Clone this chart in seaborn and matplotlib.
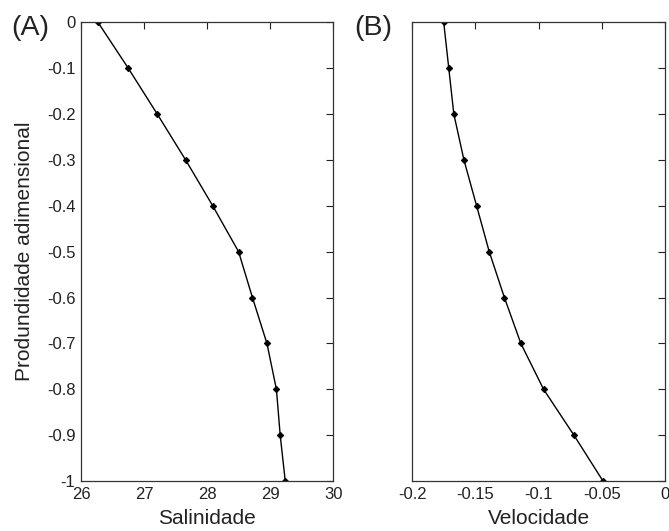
import numpy as np
import pandas as pd
import matplotlib
matplotlib.use("Agg")
import matplotlib.pyplot as plt
import seaborn as sns

# Dimensionless depth levels and the two measured profiles
depth = [0.0, -0.1, -0.2, -0.3, -0.4, -0.5, -0.6, -0.7, -0.8, -0.9, -1.0]
salinity = [26.27, 26.75, 27.21, 27.66, 28.09, 28.50, 28.72, 28.95, 29.10, 29.16, 29.24]
velocity = [-0.175, -0.171, -0.167, -0.159, -0.149, -0.139, -0.127, -0.114, -0.096, -0.072, -0.049]

sal_ticks = [26, 27, 28, 29, 30]
sal_ticklabels = ["26", "27", "28", "29", "30"]
vel_ticks = [-0.2, -0.15, -0.1, -0.05, 0]
vel_ticklabels = ["-0.2", "-0.15", "-0.1", "-0.05", "0"]
depth_ticks = [0, -0.1, -0.2, -0.3, -0.4, -0.5, -0.6, -0.7, -0.8, -0.9, -1]
depth_ticklabels = ["0", "-0.1", "-0.2", "-0.3", "-0.4", "-0.5", "-0.6", "-0.7", "-0.8", "-0.9", "-1"]

sns.set_theme(style="white")
plt.rcParams["font.family"] = ["Liberation Sans", "DejaVu Sans"]

df = pd.DataFrame({"depth": depth, "sal": salinity, "vel": velocity})

fig = plt.figure(figsize=(6.69, 5.31), dpi=100)
ax1 = fig.add_axes([0.121, 0.094, 0.377, 0.864])
ax2 = fig.add_axes([0.616, 0.094, 0.378, 0.864])

line_kw = dict(color="black", linewidth=1.0, marker="D", markersize=3.2,
               markeredgecolor="black", sort=False, estimator=None)
sns.lineplot(data=df, x="sal", y="depth", ax=ax1, **line_kw)
sns.lineplot(data=df, x="vel", y="depth", ax=ax2, **line_kw)

for ax, xt, xtl, xlim, xlab in [
    (ax1, sal_ticks, sal_ticklabels, (26, 30), "Salinidade"),
    (ax2, vel_ticks, vel_ticklabels, (-0.2, 0), "Velocidade"),
]:
    ax.set_xlim(*xlim)
    ax.set_ylim(-1, 0)
    ax.set_xticks(xt)
    ax.set_xticklabels(xtl)
    ax.set_yticks(depth_ticks)
    ax.set_xlabel(xlab, fontsize=15, color="#222222", labelpad=5)
    ax.set_ylabel("")
    ax.tick_params(direction="in", top=True, right=True, length=5, width=0.8,
                   labelsize=12, colors="#222222", pad=4)
    for s in ax.spines.values():
        s.set_color("#333333")
        s.set_linewidth(0.9)

ax1.set_yticklabels(depth_ticklabels)
ax2.set_yticklabels([])
ax1.set_ylabel("Produndidade adimensional", fontsize=15, color="#222222", labelpad=9)

fig.text(0.017, 0.947, "(A)", fontsize=20.5, color="#222222", va="center", ha="left")
fig.text(0.530, 0.947, "(B)", fontsize=20.5, color="#222222", va="center", ha="left")

fig.savefig("out.png", dpi=100)
